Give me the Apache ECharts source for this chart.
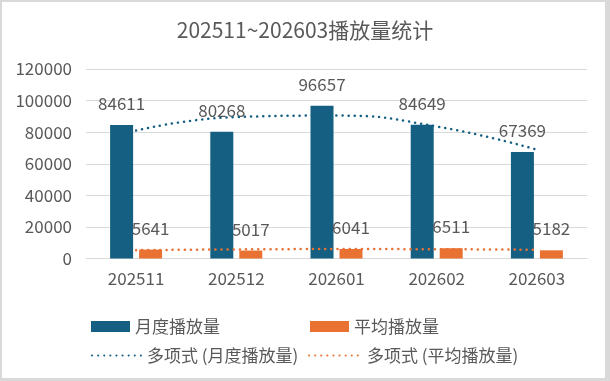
<!DOCTYPE html>
<html>
<head>
<meta charset="utf-8">
<script src="https://cdn.jsdelivr.net/npm/echarts@6/dist/echarts.min.js"></script>
<style>html,body{margin:0;padding:0;background:#fff}#c{width:610px;height:381px}</style>
</head>
<body>
<div id="c"></div>
<script>
var categories = ['202511', '202512', '202601', '202602', '202603'];
var monthly = [84611, 80268, 96657, 84649, 67369];
var average = [5641, 5017, 6041, 6511, 5182];
// trendline values (dotted polynomial curves)
var monthlyTrend = [81000, 89600, 90500, 83600, 68900];
var averageTrend = [5280, 5760, 5960, 5880, 5510];
var yTicks = [0, 20000, 40000, 60000, 80000, 100000, 120000];

var BLUE = '#156082', ORANGE = '#E97132', TXT = '#595959', GRID = '#d9d9d9';
var FONT = "'Noto Sans CJK SC', 'Noto Sans', sans-serif";
var FS = 17;
var dotted = function (c) { return { color: c, width: 2.5, type: [0.1, 6], cap: 'round' }; };
var lg = function (left, top, name, w, h) {
  return { left: left, top: top, itemWidth: w, itemHeight: h, data: [name],
    itemStyle: { opacity: 0 }, textStyle: { fontSize: FS, color: TXT, fontFamily: FONT } };
};

var chart = echarts.init(document.getElementById('c'), null, { renderer: 'canvas' });
chart.setOption({
  backgroundColor: GRID,
  animation: false,
  textStyle: { fontFamily: FONT },
  graphic: [{ type: 'rect', z: -100, silent: true, shape: { x: 2, y: 2, width: 603, height: 376 }, style: { fill: '#fff' } }],
  title: {
    text: '202511~202603播放量统计', left: 'center', top: 15,
    textStyle: { fontFamily: FONT, fontSize: 21, fontWeight: 'normal', color: TXT }
  },
  legend: [
    { left: 86, top: 313, icon: 'rect', itemWidth: 39, itemHeight: 11, data: ['月度播放量'], textStyle: { fontSize: FS, color: TXT, fontFamily: FONT } },
    { left: 305, top: 313, icon: 'rect', itemWidth: 39, itemHeight: 11, data: ['平均播放量'], textStyle: { fontSize: FS, color: TXT, fontFamily: FONT } },
    lg(86, 342, '多项式 (月度播放量)', 50, 10),
    lg(303, 342, '多项式 (平均播放量)', 53, 10)
  ],
  grid: { left: 86, right: 23, top: 69, bottom: 122.5, containLabel: false },
  xAxis: {
    type: 'category', data: categories,
    axisLine: { lineStyle: { color: GRID } }, axisTick: { show: false },
    axisLabel: { color: TXT, fontSize: FS, margin: 12, fontFamily: FONT }
  },
  yAxis: {
    type: 'value', min: yTicks[0], max: yTicks[yTicks.length - 1], interval: 20000,
    axisLine: { show: false }, axisTick: { show: false },
    splitLine: { lineStyle: { color: GRID, width: 1 } },
    axisLabel: { color: TXT, fontSize: FS, margin: 14, fontFamily: FONT, formatter: function (v) { return String(v); } }
  },
  series: [
    { name: '月度播放量', type: 'bar', data: monthly, barWidth: 23, barGap: '26%', itemStyle: { color: BLUE },
      label: { show: true, position: 'top', distance: 13, color: TXT, fontSize: FS, fontFamily: FONT } },
    { name: '平均播放量', type: 'bar', data: average, barWidth: 23, itemStyle: { color: ORANGE },
      label: { show: true, position: 'top', distance: 13, color: TXT, fontSize: FS, fontFamily: FONT } },
    { name: '多项式 (月度播放量)', type: 'line', data: monthlyTrend, smooth: 0.5, symbol: 'none', z: 5,
      lineStyle: dotted(BLUE), itemStyle: { color: BLUE } },
    { name: '多项式 (平均播放量)', type: 'line', data: averageTrend, smooth: 0.5, symbol: 'none', z: 5,
      lineStyle: dotted(ORANGE), itemStyle: { color: ORANGE } }
  ]
});
</script>
</body>
</html>
